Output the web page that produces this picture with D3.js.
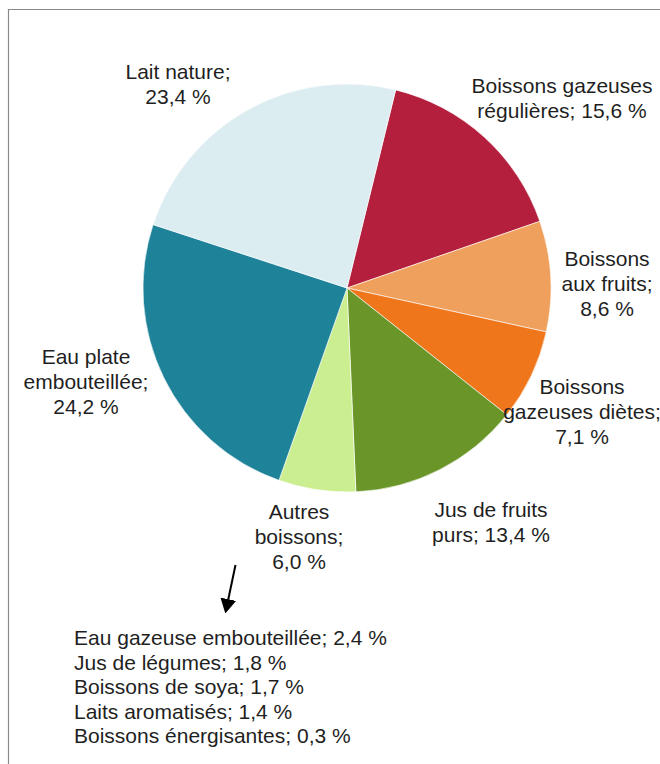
<!DOCTYPE html>
<html>
<head>
<meta charset="utf-8">
<script src="https://cdn.jsdelivr.net/npm/d3@7"></script>
<style>
  body { margin: 0; background: #fff; }
  svg text { font-family: "Liberation Sans", Arial, sans-serif; font-size: 21px; fill: #1f1f1f; }
</style>
</head>
<body>
<svg id="chart" width="660" height="764"></svg>
<script>
// boissons, dans l'ordre horaire
const categories = [
  "Boissons gazeuses régulières",
  "Boissons aux fruits",
  "Boissons gazeuses diètes",
  "Jus de fruits purs",
  "Autres boissons",
  "Eau plate embouteillée",
  "Lait nature"
];
const values = [15.6, 8.6, 7.1, 13.4, 6.0, 24.2, 23.4];
const colors = ["#b31f3d", "#f0a05d", "#ef761b", "#6a9629", "#cbef90", "#1e8299", "#dcedf1"];

// découpage des étiquettes, %v = valeur
const labelLines = [
  ["Boissons gazeuses", "régulières; %v"],
  ["Boissons", "aux fruits;", "%v"],
  ["Boissons", "gazeuses diètes;", "%v"],
  ["Jus de fruits", "purs; %v"],
  ["Autres", "boissons;", "%v"],
  ["Eau plate", "embouteillée;", "%v"],
  ["Lait nature;", "%v"]
];

// détail de "Autres boissons"
const otherNames = ["Eau gazeuse embouteillée", "Jus de légumes", "Boissons de soya", "Laits aromatisés", "Boissons énergisantes"];
const otherValues = [2.4, 1.8, 1.7, 1.4, 0.3];

// where each label block sits (center x, first baseline)
const labelPos = [[562, 93], [607, 266], [582, 394], [491, 517], [299, 519], [86, 364], [178, 79]];

const svg = d3.select("#chart");
const cx = 347, cy = 288, radius = 204;
const lineH = 25;

const fmt = v => d3.format(".1f")(v).replace(".", ",") + " %";

// frame (open on right and bottom)
svg.append("path")
  .attr("d", "M8.5,764 L8.5,9.5 L660,9.5")
  .attr("fill", "none")
  .attr("stroke", "#8a8a8a")
  .attr("stroke-width", 1.2);

const startA = 13.8 * Math.PI / 180;
const pie = d3.pie().sort(null).startAngle(startA).endAngle(startA + 2 * Math.PI);
const arc = d3.arc().innerRadius(0).outerRadius(radius);

const g = svg.append("g").attr("transform", `translate(${cx},${cy})`);
g.selectAll("path.slice")
  .data(pie(values))
  .join("path")
  .attr("class", "slice")
  .attr("d", arc)
  .attr("fill", (d, i) => colors[i])
  .attr("stroke", "#ffffff")
  .attr("stroke-width", 0.6);

// labels
const labels = svg.append("g");
labelLines.forEach(function (lines, i) {
  const t = labels.append("text")
    .attr("text-anchor", "middle")
    .attr("x", labelPos[i][0])
    .attr("y", labelPos[i][1]);
  lines.forEach(function (ln, j) {
    t.append("tspan")
      .attr("x", labelPos[i][0])
      .attr("dy", j === 0 ? 0 : lineH)
      .text(ln.replace("%v", fmt(values[i])));
  });
});

// arrow toward the detail list
svg.append("defs").append("marker")
  .attr("id", "head")
  .attr("viewBox", "0 0 14.5 16")
  .attr("refX", 0).attr("refY", 8)
  .attr("markerWidth", 14.5).attr("markerHeight", 16)
  .attr("markerUnits", "userSpaceOnUse")
  .attr("orient", "auto")
  .append("path")
  .attr("d", "M0,0 L14.5,8 L0,16 Z")
  .attr("fill", "#000");

svg.append("line")
  .attr("x1", 235.5).attr("y1", 565)
  .attr("x2", 228.3).attr("y2", 599.2)
  .attr("stroke", "#000")
  .attr("stroke-width", 2)
  .attr("marker-end", "url(#head)");

// detail list
const list = svg.append("text").attr("x", 74).attr("y", 645);
otherNames.forEach(function (n, i) {
  list.append("tspan")
    .attr("x", 74)
    .attr("dy", i === 0 ? 0 : 24.5)
    .text(n + "; " + fmt(otherValues[i]));
});
</script>
</body>
</html>
